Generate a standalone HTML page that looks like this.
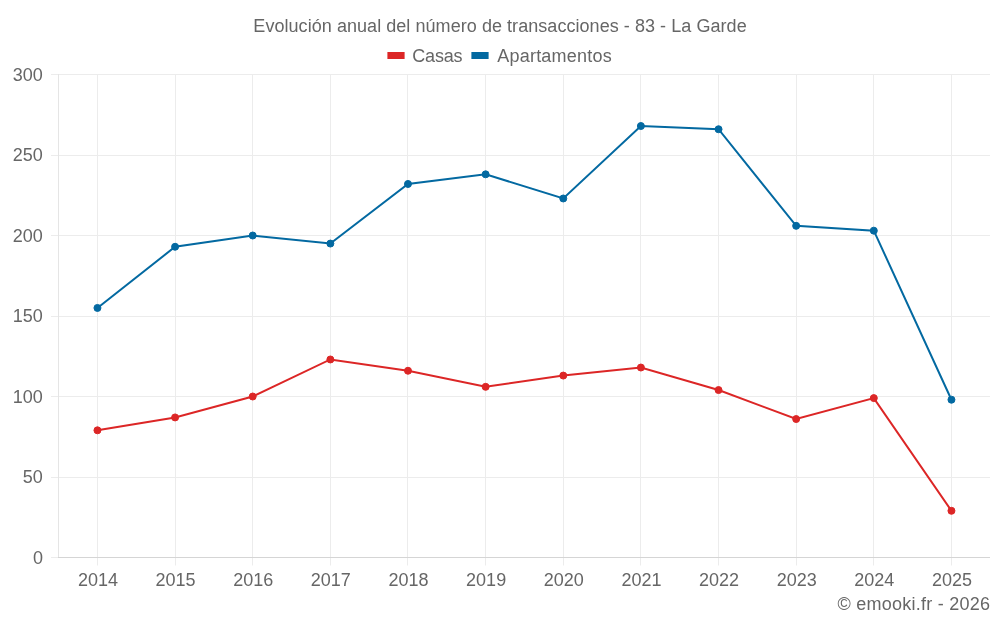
<!DOCTYPE html>
<html><head><meta charset="utf-8"><style>
html,body{margin:0;padding:0;background:#fff;width:1000px;height:625px;overflow:hidden}
svg{display:block;will-change:transform}
.t{font-family:"Liberation Sans",sans-serif;font-size:18px;fill:#666}
</style></head><body>
<svg width="1000" height="625" viewBox="0 0 1000 625">
<line x1="51" y1="557.5" x2="990" y2="557.5" stroke="#ececec"/>
<line x1="51" y1="477.5" x2="990" y2="477.5" stroke="#ececec"/>
<line x1="51" y1="396.5" x2="990" y2="396.5" stroke="#ececec"/>
<line x1="51" y1="316.5" x2="990" y2="316.5" stroke="#ececec"/>
<line x1="51" y1="235.5" x2="990" y2="235.5" stroke="#ececec"/>
<line x1="51" y1="155.5" x2="990" y2="155.5" stroke="#ececec"/>
<line x1="51" y1="74.5" x2="990" y2="74.5" stroke="#ececec"/>
<line x1="97.5" y1="74.0" x2="97.5" y2="565.5" stroke="#ececec"/>
<line x1="175.5" y1="74.0" x2="175.5" y2="565.5" stroke="#ececec"/>
<line x1="252.5" y1="74.0" x2="252.5" y2="565.5" stroke="#ececec"/>
<line x1="330.5" y1="74.0" x2="330.5" y2="565.5" stroke="#ececec"/>
<line x1="407.5" y1="74.0" x2="407.5" y2="565.5" stroke="#ececec"/>
<line x1="485.5" y1="74.0" x2="485.5" y2="565.5" stroke="#ececec"/>
<line x1="563.5" y1="74.0" x2="563.5" y2="565.5" stroke="#ececec"/>
<line x1="640.5" y1="74.0" x2="640.5" y2="565.5" stroke="#ececec"/>
<line x1="718.5" y1="74.0" x2="718.5" y2="565.5" stroke="#ececec"/>
<line x1="796.5" y1="74.0" x2="796.5" y2="565.5" stroke="#ececec"/>
<line x1="873.5" y1="74.0" x2="873.5" y2="565.5" stroke="#ececec"/>
<line x1="951.5" y1="74.0" x2="951.5" y2="565.5" stroke="#ececec"/>
<line x1="58.5" y1="73.99999999999994" x2="58.5" y2="557.5" stroke="#e5e5e5"/>
<line x1="58" y1="557.5" x2="990" y2="557.5" stroke="#d5d5d5"/>
<text x="42.9" y="563.60" text-anchor="end" class="t">0</text>
<text x="42.9" y="483.10" text-anchor="end" class="t">50</text>
<text x="42.9" y="402.60" text-anchor="end" class="t">100</text>
<text x="42.9" y="322.10" text-anchor="end" class="t">150</text>
<text x="42.9" y="241.60" text-anchor="end" class="t">200</text>
<text x="42.9" y="161.10" text-anchor="end" class="t">250</text>
<text x="42.9" y="80.60" text-anchor="end" class="t">300</text>
<text x="97.95" y="585.6" text-anchor="middle" class="t">2014</text>
<text x="175.59" y="585.6" text-anchor="middle" class="t">2015</text>
<text x="253.22" y="585.6" text-anchor="middle" class="t">2016</text>
<text x="330.86" y="585.6" text-anchor="middle" class="t">2017</text>
<text x="408.49" y="585.6" text-anchor="middle" class="t">2018</text>
<text x="486.13" y="585.6" text-anchor="middle" class="t">2019</text>
<text x="563.77" y="585.6" text-anchor="middle" class="t">2020</text>
<text x="641.40" y="585.6" text-anchor="middle" class="t">2021</text>
<text x="719.04" y="585.6" text-anchor="middle" class="t">2022</text>
<text x="796.67" y="585.6" text-anchor="middle" class="t">2023</text>
<text x="874.31" y="585.6" text-anchor="middle" class="t">2024</text>
<text x="951.95" y="585.6" text-anchor="middle" class="t">2025</text>
<polyline points="97.45,430.31 175.09,417.43 252.72,396.50 330.36,359.47 407.99,370.74 485.63,386.84 563.27,375.57 640.90,367.52 718.54,390.06 796.17,419.04 873.81,398.11 951.45,510.81" fill="none" stroke="#dc2626" stroke-width="2" stroke-linejoin="miter"/><circle cx="97.45" cy="430.31" r="3.5" fill="#dc2626" stroke="#dc2626" stroke-width="1"/><circle cx="175.09" cy="417.43" r="3.5" fill="#dc2626" stroke="#dc2626" stroke-width="1"/><circle cx="252.72" cy="396.50" r="3.5" fill="#dc2626" stroke="#dc2626" stroke-width="1"/><circle cx="330.36" cy="359.47" r="3.5" fill="#dc2626" stroke="#dc2626" stroke-width="1"/><circle cx="407.99" cy="370.74" r="3.5" fill="#dc2626" stroke="#dc2626" stroke-width="1"/><circle cx="485.63" cy="386.84" r="3.5" fill="#dc2626" stroke="#dc2626" stroke-width="1"/><circle cx="563.27" cy="375.57" r="3.5" fill="#dc2626" stroke="#dc2626" stroke-width="1"/><circle cx="640.90" cy="367.52" r="3.5" fill="#dc2626" stroke="#dc2626" stroke-width="1"/><circle cx="718.54" cy="390.06" r="3.5" fill="#dc2626" stroke="#dc2626" stroke-width="1"/><circle cx="796.17" cy="419.04" r="3.5" fill="#dc2626" stroke="#dc2626" stroke-width="1"/><circle cx="873.81" cy="398.11" r="3.5" fill="#dc2626" stroke="#dc2626" stroke-width="1"/><circle cx="951.45" cy="510.81" r="3.5" fill="#dc2626" stroke="#dc2626" stroke-width="1"/>
<polyline points="97.45,307.95 175.09,246.77 252.72,235.50 330.36,243.55 407.99,183.98 485.63,174.32 563.27,198.47 640.90,126.02 718.54,129.24 796.17,225.84 873.81,230.67 951.45,399.72" fill="none" stroke="#0369a1" stroke-width="2" stroke-linejoin="miter"/><circle cx="97.45" cy="307.95" r="3.5" fill="#0369a1" stroke="#0369a1" stroke-width="1"/><circle cx="175.09" cy="246.77" r="3.5" fill="#0369a1" stroke="#0369a1" stroke-width="1"/><circle cx="252.72" cy="235.50" r="3.5" fill="#0369a1" stroke="#0369a1" stroke-width="1"/><circle cx="330.36" cy="243.55" r="3.5" fill="#0369a1" stroke="#0369a1" stroke-width="1"/><circle cx="407.99" cy="183.98" r="3.5" fill="#0369a1" stroke="#0369a1" stroke-width="1"/><circle cx="485.63" cy="174.32" r="3.5" fill="#0369a1" stroke="#0369a1" stroke-width="1"/><circle cx="563.27" cy="198.47" r="3.5" fill="#0369a1" stroke="#0369a1" stroke-width="1"/><circle cx="640.90" cy="126.02" r="3.5" fill="#0369a1" stroke="#0369a1" stroke-width="1"/><circle cx="718.54" cy="129.24" r="3.5" fill="#0369a1" stroke="#0369a1" stroke-width="1"/><circle cx="796.17" cy="225.84" r="3.5" fill="#0369a1" stroke="#0369a1" stroke-width="1"/><circle cx="873.81" cy="230.67" r="3.5" fill="#0369a1" stroke="#0369a1" stroke-width="1"/><circle cx="951.45" cy="399.72" r="3.5" fill="#0369a1" stroke="#0369a1" stroke-width="1"/>
<text x="500" y="32" text-anchor="middle" class="t" textLength="493.3" lengthAdjust="spacing">Evolución anual del número de transacciones - 83 - La Garde</text>
<rect x="388.4" y="53" width="15.2" height="5" fill="#dc2626" stroke="#dc2626" stroke-width="2"/>
<text x="412.2" y="61.5" text-anchor="start" class="t" textLength="50.4" lengthAdjust="spacing">Casas</text>
<rect x="472.4" y="53" width="15.2" height="5" fill="#0369a1" stroke="#0369a1" stroke-width="2"/>
<text x="497.2" y="61.5" text-anchor="start" class="t" textLength="114.56" lengthAdjust="spacing">Apartamentos</text>
<text x="990" y="610.2" text-anchor="end" class="t" textLength="152.6" lengthAdjust="spacing">© emooki.fr - 2026</text>
</svg>
</body></html>
